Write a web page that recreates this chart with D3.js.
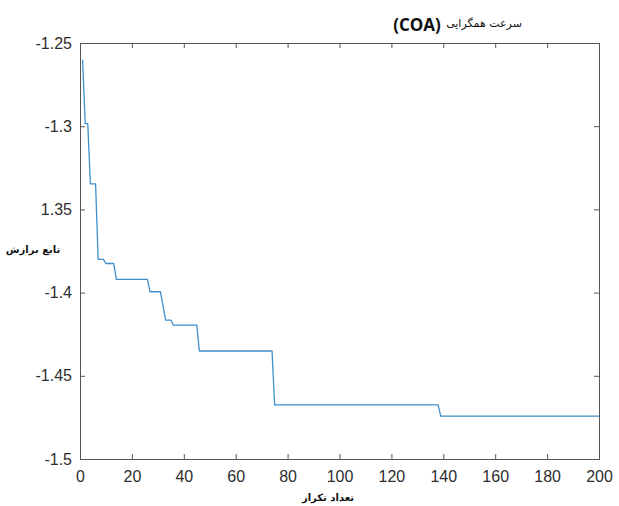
<!DOCTYPE html>
<html>
<head>
<meta charset="utf-8">
<script src="https://cdn.jsdelivr.net/npm/d3@7"></script>
<style>
  html, body { margin: 0; padding: 0; background: #fff; }
  svg { display: block; }
</style>
</head>
<body>
<svg id="chart" width="619" height="506"></svg>
<script>
// Best fitness per iteration (COA convergence), iterations 1..200
const iterations = d3.range(1, 201);
const fitness = [
  -1.2600, -1.2985, -1.2985, -1.3347, -1.3347, -1.3347, -1.3800, -1.3800, -1.3800, -1.3825,
  -1.3825, -1.3825, -1.3825, -1.3920, -1.3920, -1.3920, -1.3920, -1.3920, -1.3920, -1.3920,
  -1.3920, -1.3920, -1.3920, -1.3920, -1.3920, -1.3920, -1.3995, -1.3995, -1.3995, -1.3995,
  -1.3995, -1.4080, -1.4165, -1.4165, -1.4165, -1.4195, -1.4195, -1.4195, -1.4195, -1.4195,
  -1.4195, -1.4195, -1.4195, -1.4195, -1.4195, -1.4351, -1.4351, -1.4351, -1.4351, -1.4351,
  -1.4351, -1.4351, -1.4351, -1.4351, -1.4351, -1.4351, -1.4351, -1.4351, -1.4351, -1.4351,
  -1.4351, -1.4351, -1.4351, -1.4351, -1.4351, -1.4351, -1.4351, -1.4351, -1.4351, -1.4351,
  -1.4351, -1.4351, -1.4351, -1.4351, -1.4675, -1.4675, -1.4675, -1.4675, -1.4675, -1.4675,
  -1.4675, -1.4675, -1.4675, -1.4675, -1.4675, -1.4675, -1.4675, -1.4675, -1.4675, -1.4675,
  -1.4675, -1.4675, -1.4675, -1.4675, -1.4675, -1.4675, -1.4675, -1.4675, -1.4675, -1.4675,
  -1.4675, -1.4675, -1.4675, -1.4675, -1.4675, -1.4675, -1.4675, -1.4675, -1.4675, -1.4675,
  -1.4675, -1.4675, -1.4675, -1.4675, -1.4675, -1.4675, -1.4675, -1.4675, -1.4675, -1.4675,
  -1.4675, -1.4675, -1.4675, -1.4675, -1.4675, -1.4675, -1.4675, -1.4675, -1.4675, -1.4675,
  -1.4675, -1.4675, -1.4675, -1.4675, -1.4675, -1.4675, -1.4675, -1.4675, -1.4742, -1.4742,
  -1.4742, -1.4742, -1.4742, -1.4742, -1.4742, -1.4742, -1.4742, -1.4742, -1.4742, -1.4742,
  -1.4742, -1.4742, -1.4742, -1.4742, -1.4742, -1.4742, -1.4742, -1.4742, -1.4742, -1.4742,
  -1.4742, -1.4742, -1.4742, -1.4742, -1.4742, -1.4742, -1.4742, -1.4742, -1.4742, -1.4742,
  -1.4742, -1.4742, -1.4742, -1.4742, -1.4742, -1.4742, -1.4742, -1.4742, -1.4742, -1.4742,
  -1.4742, -1.4742, -1.4742, -1.4742, -1.4742, -1.4742, -1.4742, -1.4742, -1.4742, -1.4742,
  -1.4742, -1.4742, -1.4742, -1.4742, -1.4742, -1.4742, -1.4742, -1.4742, -1.4742, -1.4742
];

const xTicks = [0, 20, 40, 60, 80, 100, 120, 140, 160, 180, 200];
const yTicks = [-1.5, -1.45, -1.4, -1.35, -1.3, -1.25];
const yTickLabels = ["-1.5", "-1.45", "-1.4", "1.35", "-1.3", "-1.25"];

const titleMain = "(COA)";
const titleFa = "سرعت همگرایی";
const xLabel = "تعداد تکرار";
const yLabel = "تابع برازش";

const svg = d3.select("#chart");
const box = { left: 80, right: 599, top: 43, bottom: 459 };

const x = d3.scaleLinear().domain([0, 200]).range([box.left, box.right]);
const y = d3.scaleLinear().domain([-1.5, -1.25]).range([box.bottom, box.top]);

const axisColor = "#555";
const textColor = "#2e2e2e";
const tickFont = "'Liberation Sans', Arial, sans-serif";

// Axes with inward ticks on all four sides
const axBottom = svg.append("g").attr("transform", `translate(0,${box.bottom})`)
  .call(d3.axisBottom(x).tickValues(xTicks).tickSize(-5).tickPadding(12).tickFormat(d3.format("d")));
const axTop = svg.append("g").attr("transform", `translate(0,${box.top})`)
  .call(d3.axisTop(x).tickValues(xTicks).tickSize(-5).tickFormat(""));
const axLeft = svg.append("g").attr("transform", `translate(${box.left},0)`)
  .call(d3.axisLeft(y).tickValues(yTicks).tickSize(-5).tickPadding(8)
    .tickFormat((d, i) => yTickLabels[i]));
const axRight = svg.append("g").attr("transform", `translate(${box.right},0)`)
  .call(d3.axisRight(y).tickValues(yTicks).tickSize(-5).tickFormat(""));

[axBottom, axTop, axLeft, axRight].forEach(g => {
  g.select(".domain").attr("stroke", axisColor).attr("stroke-width", 1);
  g.selectAll(".tick line").attr("stroke", axisColor);
  g.selectAll(".tick text")
    .attr("fill", textColor)
    .style("font-family", tickFont)
    .style("font-size", "16px");
});

// Convergence curve
const line = d3.line()
  .x((d, i) => x(iterations[i]))
  .y(d => y(d));

svg.append("path")
  .datum(fitness)
  .attr("d", line)
  .attr("fill", "none")
  .attr("stroke", "#3f8fcb")
  .attr("stroke-width", 1.3)
  .attr("stroke-linejoin", "round");

// Title
svg.append("text")
  .attr("x", 417).attr("y", 31)
  .attr("text-anchor", "middle")
  .style("font-family", "'Open Sans', 'Liberation Sans', sans-serif")
  .style("font-weight", "bold")
  .style("font-size", "17px")
  .attr("fill", "#111")
  .text(titleMain);

svg.append("text")
  .attr("x", 484).attr("y", 27)
  .attr("text-anchor", "middle")
  .attr("direction", "rtl")
  .style("font-family", "'DejaVu Sans', 'Noto Sans', sans-serif")
  .style("font-size", "11px")
  .attr("fill", "#111")
  .text(titleFa);

// Axis labels
svg.append("text")
  .attr("x", 328).attr("y", 501)
  .attr("text-anchor", "middle")
  .attr("direction", "rtl")
  .style("font-family", "'DejaVu Sans', 'Noto Sans', sans-serif")
  .style("font-weight", "bold")
  .style("font-size", "10px")
  .attr("fill", "#111")
  .text(xLabel);

svg.append("text")
  .attr("x", 33).attr("y", 253)
  .attr("text-anchor", "middle")
  .attr("direction", "rtl")
  .style("font-family", "'DejaVu Sans', 'Noto Sans', sans-serif")
  .style("font-weight", "bold")
  .style("font-size", "10px")
  .attr("fill", "#111")
  .text(yLabel);
</script>
</body>
</html>
